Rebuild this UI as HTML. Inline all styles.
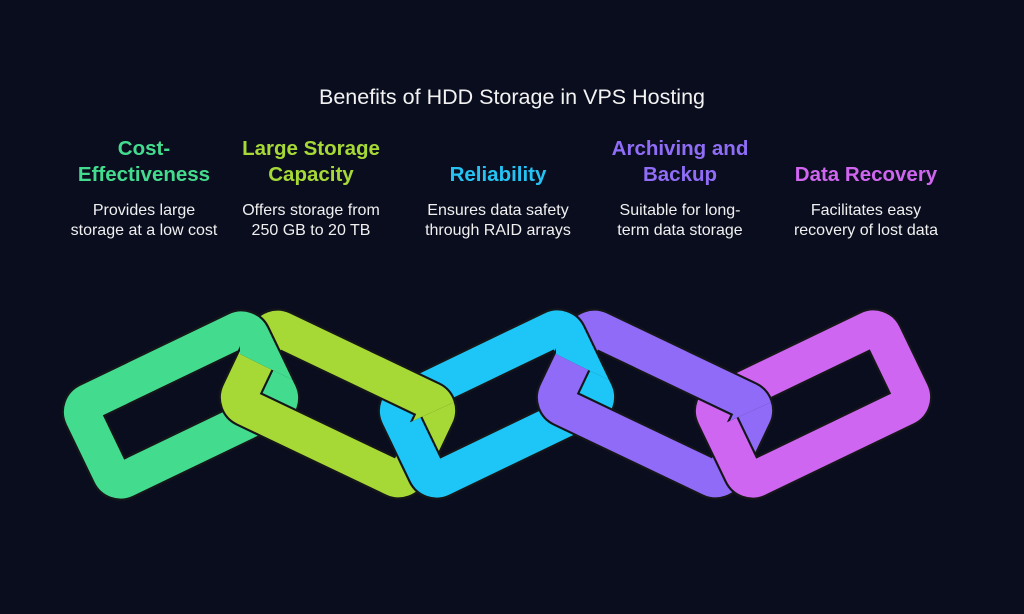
<!DOCTYPE html>
<html><head><meta charset="utf-8"><style>
html,body{margin:0;padding:0;background:#0a0d1e;}
body{width:1024px;height:614px;position:relative;overflow:hidden;font-family:"Liberation Sans",Arial,sans-serif;}
.t{position:absolute;left:0;width:1024px;top:85px;text-align:center;color:#f2f2f2;font-size:21.5px;}
.col{position:absolute;top:136px;width:200px;margin-left:-100px;text-align:center;}
.h{font-weight:bold;font-size:20.5px;line-height:26px;height:52px;display:flex;align-items:flex-end;justify-content:center;}
.d{color:#f0f0f0;font-size:16px;line-height:20px;margin-top:13px;}
</style></head><body>
<div class="t">Benefits of HDD Storage in VPS Hosting</div>
<div class="col" style="left:144px"><div class="h" style="color:#43dc8f">Cost-<br>Effectiveness</div><div class="d">Provides large<br>storage at a low cost</div></div>
<div class="col" style="left:311px"><div class="h" style="color:#a6d936">Large Storage<br>Capacity</div><div class="d">Offers storage from<br>250 GB to 20 TB</div></div>
<div class="col" style="left:498px"><div class="h" style="color:#25c3f4">Reliability</div><div class="d">Ensures data safety<br>through RAID arrays</div></div>
<div class="col" style="left:680px"><div class="h" style="color:#8f6df7">Archiving and<br>Backup</div><div class="d">Suitable for long-<br>term data storage</div></div>
<div class="col" style="left:866px"><div class="h" style="color:#d066f0">Data Recovery</div><div class="d">Facilitates easy<br>recovery of lost data</div></div>
<svg width="1024" height="614" style="position:absolute;left:0;top:0">
<defs>
<g id="L"><rect x="-87" y="-40" width="174" height="80" rx="10" fill="none" stroke="#15161a" stroke-width="38"/><rect x="-87" y="-40" width="174" height="80" rx="10" fill="none" stroke-width="34"/></g>
<clipPath id="c0"><polygon points="240,290 330,290 330,398 260,364 240,354"/></clipPath>
<clipPath id="c1"><polygon points="370,290 470,290 470,395 417,419 370,441"/></clipPath>
<clipPath id="c2"><polygon points="556,290 646,290 646,398 576,364 556,354"/></clipPath>
<clipPath id="c3"><polygon points="687,290 787,290 787,395 734,419 687,441"/></clipPath>
</defs>
<use href="#L" stroke="#43dc8f" transform="translate(181,405) rotate(-25.7) scale(1.07)"/>
<use href="#L" stroke="#a6d936" transform="translate(338,404) rotate(25.5) scale(1.07)"/>
<g clip-path="url(#c0)"><use href="#L" stroke="#43dc8f" transform="translate(181,405) rotate(-25.7) scale(1.07)"/></g>
<use href="#L" stroke="#1ec6f7" transform="translate(497,404) rotate(-25.7) scale(1.07)"/>
<g clip-path="url(#c1)"><use href="#L" stroke="#a6d936" transform="translate(338,404) rotate(25.5) scale(1.07)"/></g>
<use href="#L" stroke="#8f6bf8" transform="translate(655,404) rotate(25.5) scale(1.07)"/>
<g clip-path="url(#c2)"><use href="#L" stroke="#1ec6f7" transform="translate(497,404) rotate(-25.7) scale(1.07)"/></g>
<use href="#L" stroke="#cf66f2" transform="translate(813,404) rotate(-25.7) scale(1.07)"/>
<g clip-path="url(#c3)"><use href="#L" stroke="#8f6bf8" transform="translate(655,404) rotate(25.5) scale(1.07)"/></g>
</svg>
</body></html>
